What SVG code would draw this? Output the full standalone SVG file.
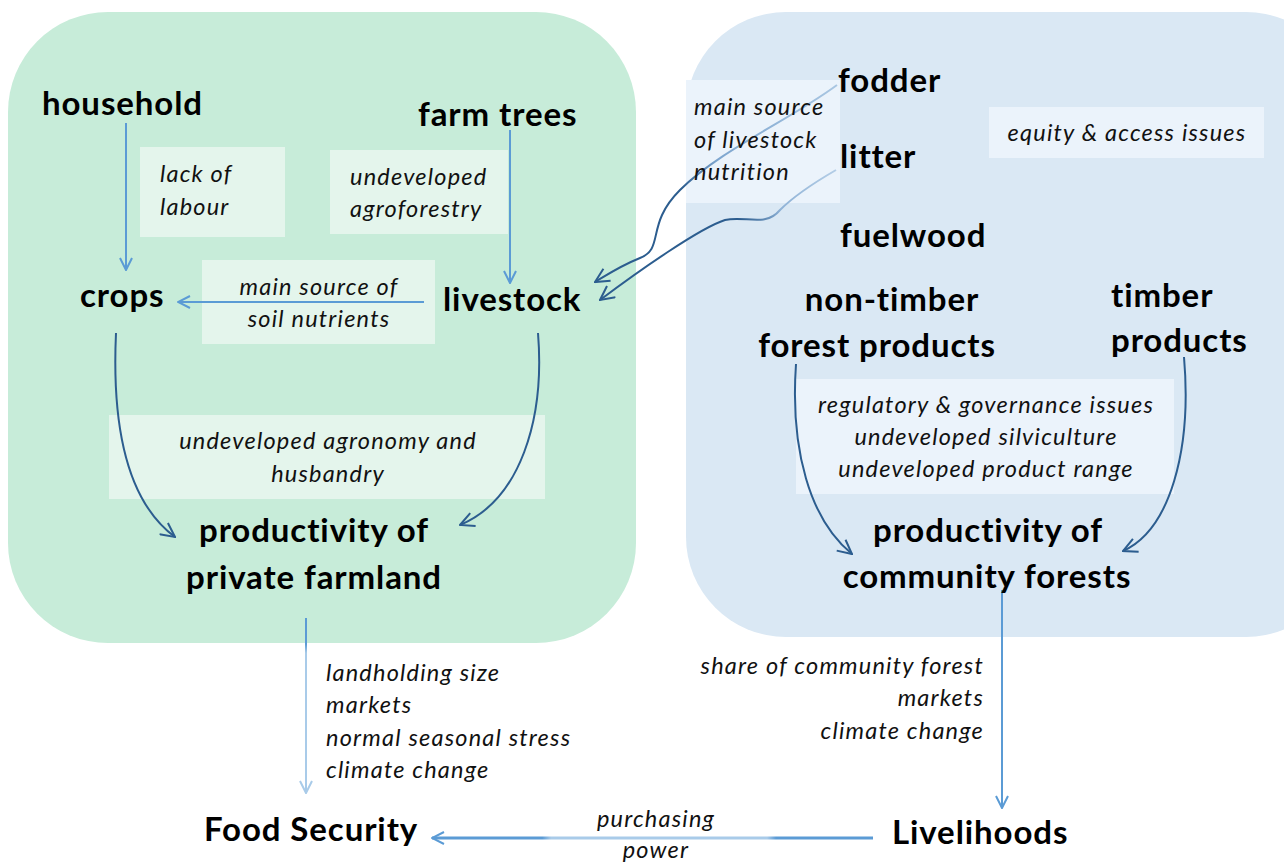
<svg xmlns="http://www.w3.org/2000/svg" width="1284" height="863" viewBox="0 0 1284 863">
  <style>
    .node { font-family: Lato, "Liberation Sans", sans-serif; font-weight: bold; font-size: 33px; letter-spacing: 0.9px; fill: #000; }
    .lbl { font-family: Lato, "Liberation Sans", sans-serif; font-style: italic; font-size: 23.5px; letter-spacing: 1.2px; fill: #111; }
    .mid { text-anchor: middle; }
    .end { text-anchor: end; }
    .note-g { fill: #e4f5ec; }
    .note-b { fill: #ebf3fb; }
    .lt { fill: none; stroke: #5b9bd5; stroke-width: 2; }
    .dk { fill: none; stroke: #2c5d8f; stroke-width: 2; }
  </style>
  <defs>
    <marker id="ahL" viewBox="0 0 14 14" refX="13" refY="7" markerWidth="14" markerHeight="14" markerUnits="userSpaceOnUse" orient="auto">
      <path d="M1,1 L13,7 L1,13" fill="none" stroke="#5b9bd5" stroke-width="2"/>
    </marker>
    <marker id="ahP" viewBox="0 0 14 14" refX="13" refY="7" markerWidth="14" markerHeight="14" markerUnits="userSpaceOnUse" orient="auto">
      <path d="M1,1 L13,7 L1,13" fill="none" stroke="#a9cbe9" stroke-width="2"/>
    </marker>
    <marker id="ahD" viewBox="0 0 16 16" refX="15" refY="8" markerWidth="16" markerHeight="16" markerUnits="userSpaceOnUse" orient="auto">
      <path d="M1,1 L15,8 L1,15" fill="none" stroke="#2c5d8f" stroke-width="2"/>
    </marker>
    <linearGradient id="gFod" gradientUnits="userSpaceOnUse" x1="836" y1="85" x2="600" y2="282">
      <stop offset="0" stop-color="#a9c6e2"/>
      <stop offset="0.45" stop-color="#7ea6cf"/>
      <stop offset="0.6" stop-color="#2c5d8f"/>
      <stop offset="1" stop-color="#2c5d8f"/>
    </linearGradient>
    <linearGradient id="gLit" gradientUnits="userSpaceOnUse" x1="836" y1="170" x2="600" y2="300">
      <stop offset="0" stop-color="#b3cde6"/>
      <stop offset="0.25" stop-color="#8fb2d6"/>
      <stop offset="0.4" stop-color="#2c5d8f"/>
      <stop offset="1" stop-color="#2c5d8f"/>
    </linearGradient>
    <linearGradient id="gFood" gradientUnits="userSpaceOnUse" x1="0" y1="618" x2="0" y2="793">
      <stop offset="0" stop-color="#5b9bd5"/>
      <stop offset="0.15" stop-color="#5b9bd5"/>
      <stop offset="0.2" stop-color="#a9cbe9"/>
      <stop offset="1" stop-color="#a9cbe9"/>
    </linearGradient>
    <linearGradient id="gPow" gradientUnits="userSpaceOnUse" x1="432" y1="0" x2="873" y2="0">
      <stop offset="0" stop-color="#5b9bd5"/>
      <stop offset="0.25" stop-color="#5b9bd5"/>
      <stop offset="0.27" stop-color="#a9cbe9"/>
      <stop offset="0.76" stop-color="#a9cbe9"/>
      <stop offset="0.78" stop-color="#5b9bd5"/>
      <stop offset="1" stop-color="#5b9bd5"/>
    </linearGradient>
  </defs>

  <!-- panels -->
  <rect id="panel-farmland" x="8" y="12" width="628" height="631" rx="100" fill="#c7ecd9"/>
  <rect id="panel-forest" x="686" y="12" width="660" height="625" rx="100" fill="#dae8f4"/>

  <!-- constraint notes -->
  <g id="notes">
    <rect class="note-g" x="140" y="147" width="145" height="90"/>
    <rect class="note-g" x="330" y="150" width="178" height="84"/>
    <rect class="note-g" x="202" y="260" width="233" height="84"/>
    <rect class="note-g" x="109" y="415" width="436" height="84"/>
    <rect class="note-b" x="686" y="80" width="154" height="123"/>
    <rect class="note-b" x="989" y="107" width="275" height="51"/>
    <rect class="note-b" x="796" y="379" width="378" height="115"/>
  </g>

  <!-- connectors -->
  <g id="connectors">
    <line class="lt" x1="126" y1="123" x2="126" y2="270" marker-end="url(#ahL)"/>
    <line class="lt" x1="510" y1="130" x2="510" y2="283" marker-end="url(#ahL)"/>
    <line class="lt" x1="424" y1="302" x2="178" y2="302" marker-end="url(#ahL)"/>
    <path class="dk" d="M116,333 C112,420 125,500 175,537" marker-end="url(#ahD)"/>
    <path class="dk" d="M538,333 C545,420 520,500 460,525" marker-end="url(#ahD)"/>
    <path d="M837,85 C790,120 720,150 680,190 C645,225 665,248 640,258 C620,266 605,276 595,282" fill="none" stroke="url(#gFod)" stroke-width="2" marker-end="url(#ahD)"/>
    <path d="M836,170 C805,188 790,200 780,210 C765,228 745,215 725,220 C700,228 640,270 600,300" fill="none" stroke="url(#gLit)" stroke-width="2" marker-end="url(#ahD)"/>
    <path class="dk" d="M796,364 C790,450 810,520 852,554" marker-end="url(#ahD)"/>
    <path class="dk" d="M1184,357 C1192,450 1170,530 1123,551" marker-end="url(#ahD)"/>
    <line x1="306" y1="618" x2="306" y2="793" fill="none" stroke="url(#gFood)" stroke-width="2" marker-end="url(#ahP)"/>
    <line class="lt" x1="1002" y1="590" x2="1002" y2="808" marker-end="url(#ahL)"/>
    <line x1="873" y1="838" x2="432" y2="838" fill="none" stroke="url(#gPow)" stroke-width="3" marker-end="url(#ahL)"/>
  </g>

  <!-- nodes -->
  <g id="household"><text class="node" x="42" y="115">household</text></g>
  <g id="farm-trees"><text class="node" x="418" y="126">farm trees</text></g>
  <g id="crops"><text class="node" x="80" y="307">crops</text></g>
  <g id="livestock"><text class="node" x="443" y="311">livestock</text></g>
  <g id="prod-farmland">
    <text class="node mid" x="314" y="542">productivity of</text>
    <text class="node mid" x="314" y="589">private farmland</text>
  </g>
  <g id="fodder"><text class="node" x="838" y="92">fodder</text></g>
  <g id="litter"><text class="node" x="840" y="168">litter</text></g>
  <g id="fuelwood"><text class="node" x="840" y="247">fuelwood</text></g>
  <g id="ntfp">
    <text class="node mid" x="892" y="311">non-timber</text>
    <text class="node mid" x="877" y="357">forest products</text>
  </g>
  <g id="timber">
    <text class="node" x="1111" y="307">timber</text>
    <text class="node" x="1111" y="352">products</text>
  </g>
  <g id="prod-forests">
    <text class="node mid" x="988" y="542">productivity of</text>
    <text class="node mid" x="987" y="588">community forests</text>
  </g>
  <g id="food-security"><text class="node" x="204" y="841">Food Security</text></g>
  <g id="livelihoods"><text class="node" x="892" y="844">Livelihoods</text></g>

  <!-- labels -->
  <g id="labels">
    <text class="lbl" x="160" y="182">lack of</text>
    <text class="lbl" x="160" y="215">labour</text>
    <text class="lbl" x="350" y="185">undeveloped</text>
    <text class="lbl" x="350" y="217">agroforestry</text>
    <text class="lbl mid" x="319" y="295">main source of</text>
    <text class="lbl mid" x="319" y="327">soil nutrients</text>
    <text class="lbl mid" x="328" y="449">undeveloped agronomy and</text>
    <text class="lbl mid" x="328" y="482">husbandry</text>
    <text class="lbl" x="694" y="115">main source</text>
    <text class="lbl" x="694" y="148">of livestock</text>
    <text class="lbl" x="694" y="180">nutrition</text>
    <text class="lbl mid" x="1127" y="141">equity &amp; access issues</text>
    <text class="lbl mid" x="986" y="413">regulatory &amp; governance issues</text>
    <text class="lbl mid" x="986" y="445">undeveloped silviculture</text>
    <text class="lbl mid" x="986" y="477">undeveloped product range</text>
    <text class="lbl" x="326" y="681">landholding size</text>
    <text class="lbl" x="326" y="713">markets</text>
    <text class="lbl" x="326" y="746">normal seasonal stress</text>
    <text class="lbl" x="326" y="778">climate change</text>
    <text class="lbl end" x="984" y="674">share of community forest</text>
    <text class="lbl end" x="984" y="706">markets</text>
    <text class="lbl end" x="984" y="739">climate change</text>
    <text class="lbl mid" x="656" y="827">purchasing</text>
    <text class="lbl mid" x="656" y="858">power</text>
  </g>
</svg>
